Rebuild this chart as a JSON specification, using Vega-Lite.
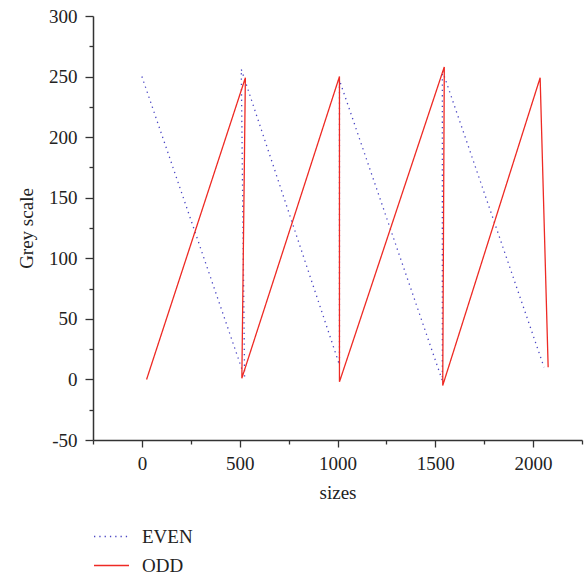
{
  "$schema": "https://vega.github.io/schema/vega-lite/v6.json",
  "autosize": {"type": "none"},
  "padding": {"left": 93, "top": 16, "right": 3, "bottom": 138},
  "width": 489,
  "height": 424,
  "background": "white",
  "config": {
    "view": {"stroke": null},
    "font": "Liberation Serif"
  },
  "data": {
    "values": [
      {"series": "EVEN", "i": 0, "x": 0, "y": 250},
      {"series": "EVEN", "i": 1, "x": 525, "y": 2},
      {"series": "EVEN", "i": 2, "x": 508, "y": 256},
      {"series": "EVEN", "i": 3, "x": 1010, "y": 12},
      {"series": "EVEN", "i": 4, "x": 1010, "y": 247},
      {"series": "EVEN", "i": 5, "x": 1536, "y": -1},
      {"series": "EVEN", "i": 6, "x": 1536, "y": 255},
      {"series": "EVEN", "i": 7, "x": 2056, "y": 10},
      {"series": "ODD", "i": 0, "x": 24, "y": 0},
      {"series": "ODD", "i": 1, "x": 529, "y": 249},
      {"series": "ODD", "i": 2, "x": 511, "y": 1},
      {"series": "ODD", "i": 3, "x": 1010, "y": 250},
      {"series": "ODD", "i": 4, "x": 1010, "y": -2},
      {"series": "ODD", "i": 5, "x": 1546, "y": 258},
      {"series": "ODD", "i": 6, "x": 1538, "y": -5},
      {"series": "ODD", "i": 7, "x": 2036, "y": 249},
      {"series": "ODD", "i": 8, "x": 2077, "y": 10}
    ]
  },
  "mark": {"type": "line", "strokeWidth": 1.3},
  "encoding": {
    "x": {
      "field": "x", "type": "quantitative",
      "scale": {"domain": [-250, 2250], "nice": false, "zero": false},
      "axis": {
        "title": "sizes",
        "values": [-250, 0, 250, 500, 750, 1000, 1250, 1500, 1750, 2000, 2250],
        "labelExpr": "datum.value % 500 === 0 ? '' + datum.value : ''",
        "grid": false,
        "domainColor": "#333", "domainWidth": 1.5,
        "tickColor": "#333", "tickWidth": 1.3,
        "tickSize": {"condition": {"test": "datum.value % 500 === 0", "value": 7}, "value": 4},
        "labelFontSize": 19, "labelColor": "#222", "labelPadding": 7,
        "labelFlush": false, "labelOverlap": false,
        "titleFontSize": 19, "titleFontWeight": "normal", "titleColor": "#222", "titlePadding": 10
      }
    },
    "y": {
      "field": "y", "type": "quantitative",
      "scale": {"domain": [-50, 300], "nice": false, "zero": false},
      "axis": {
        "title": "Grey scale",
        "values": [-50, -25, 0, 25, 50, 75, 100, 125, 150, 175, 200, 225, 250, 275, 300],
        "labelExpr": "datum.value % 50 === 0 ? '' + datum.value : ''",
        "grid": false,
        "domainColor": "#333", "domainWidth": 1.5,
        "tickColor": "#333", "tickWidth": 1.3,
        "tickSize": {"condition": {"test": "datum.value % 50 === 0", "value": 8}, "value": 4},
        "labelFontSize": 19, "labelColor": "#222", "labelPadding": 8,
        "labelFlush": false, "labelOverlap": false,
        "titleFontSize": 19, "titleFontWeight": "normal", "titleColor": "#222", "titlePadding": 12
      }
    },
    "color": {
      "field": "series", "type": "nominal",
      "scale": {"domain": ["EVEN", "ODD"], "range": ["#4a46c4", "#ee2a24"]},
      "legend": {
        "title": null,
        "orient": "none",
        "legendX": 0,
        "legendY": 502,
        "symbolType": "stroke",
        "symbolSize": 1225,
        "symbolStrokeWidth": 1.5,
        "labelFontSize": 19,
        "labelColor": "#222",
        "labelOffset": 12,
        "rowPadding": -5
      }
    },
    "strokeDash": {
      "field": "series", "type": "nominal",
      "scale": {"domain": ["EVEN", "ODD"], "range": [[1.3, 4], [1, 0]]},
      "legend": {
        "title": null,
        "orient": "none",
        "legendX": 0,
        "legendY": 502,
        "symbolType": "stroke",
        "symbolSize": 1225,
        "symbolStrokeWidth": 1.5,
        "labelFontSize": 19,
        "labelColor": "#222",
        "labelOffset": 12,
        "rowPadding": -5
      }
    },
    "order": {"field": "i", "type": "quantitative"}
  }
}
